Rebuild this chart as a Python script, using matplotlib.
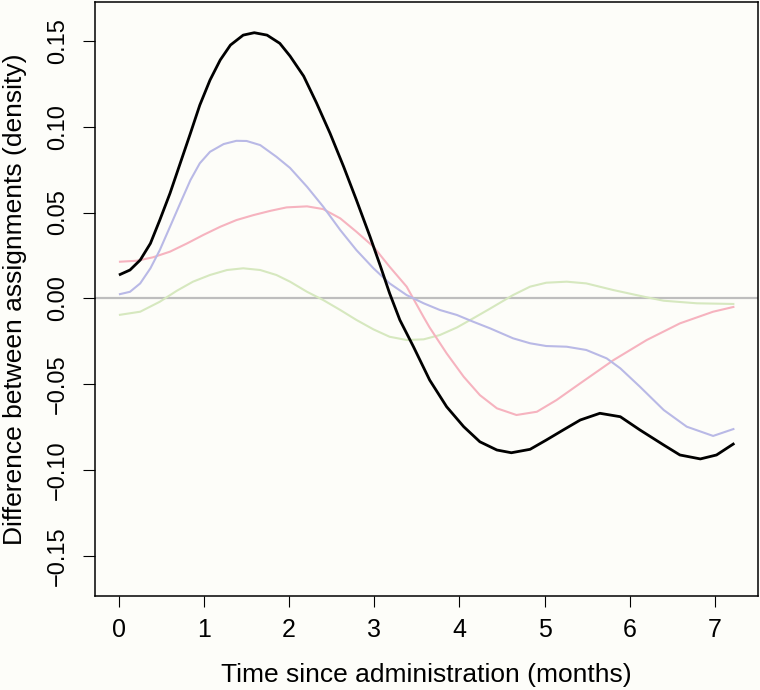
import numpy as np
import matplotlib
matplotlib.use('Agg')
import matplotlib.pyplot as plt

plt.rcParams['font.family'] = ['Liberation Sans', 'DejaVu Sans']

# values (months, density difference)
black_x = [0.0, 0.13, 0.25, 0.37, 0.48, 0.60, 0.72, 0.84, 0.95, 1.07, 1.19, 1.31, 1.46,
           1.59, 1.74, 1.89, 2.01, 2.17, 2.32, 2.48, 2.64, 2.79, 2.95, 3.07, 3.18, 3.30,
           3.46, 3.65, 3.85, 4.05, 4.24, 4.44, 4.61, 4.83, 5.02, 5.22, 5.42, 5.65, 5.89,
           6.12, 6.40, 6.59, 6.83, 7.02, 7.23]
black_y = [0.0136, 0.0165, 0.0223, 0.0320, 0.0456, 0.0612, 0.0787, 0.0962, 0.1126, 0.1272,
           0.1389, 0.1476, 0.1534, 0.1548, 0.1534, 0.1486, 0.1412, 0.1295, 0.1140, 0.0962,
           0.0767, 0.0573, 0.0359, 0.0190, 0.0029, -0.0126, -0.0282, -0.0476, -0.0632,
           -0.0748, -0.0836, -0.0884, -0.0900, -0.0880, -0.0826, -0.0767, -0.0709, -0.0670,
           -0.0690, -0.0767, -0.0855, -0.0913, -0.0936, -0.0913, -0.0845]

blue_x = [0.0, 0.13, 0.25, 0.37, 0.48, 0.60, 0.72, 0.84, 0.95, 1.07, 1.23, 1.38, 1.50,
          1.66, 1.85, 2.01, 2.21, 2.40, 2.60, 2.79, 2.99, 3.18, 3.38, 3.58, 3.77, 3.97,
          4.16, 4.36, 4.63, 4.83, 5.02, 5.26, 5.49, 5.73, 5.89, 6.12, 6.40, 6.67, 6.98, 7.23]
blue_y = [0.0023, 0.0038, 0.0087, 0.0175, 0.0281, 0.0417, 0.0554, 0.0689, 0.0787, 0.0854,
          0.0899, 0.0918, 0.0917, 0.0893, 0.0825, 0.0760, 0.0650, 0.0534, 0.0398, 0.0281,
          0.0175, 0.0087, 0.0019, -0.0029, -0.0068, -0.0097, -0.0136, -0.0175, -0.0233,
          -0.0262, -0.0278, -0.0282, -0.0301, -0.0350, -0.0408, -0.0515, -0.0651, -0.0748,
          -0.0802, -0.0760]

red_x = [0.0, 0.21, 0.40, 0.60, 0.80, 0.99, 1.19, 1.38, 1.58, 1.78, 1.97, 2.21, 2.40,
         2.60, 2.79, 2.99, 3.18, 3.38, 3.58, 3.65, 3.85, 4.05, 4.24, 4.44, 4.67, 4.91,
         5.14, 5.42, 5.81, 6.20, 6.59, 6.98, 7.23]
red_y = [0.0213, 0.0219, 0.0239, 0.0272, 0.0320, 0.0369, 0.0417, 0.0456, 0.0485, 0.0510,
         0.0530, 0.0536, 0.0520, 0.0466, 0.0388, 0.0301, 0.0184, 0.0068, -0.0110, -0.0170,
         -0.0321, -0.0457, -0.0564, -0.0641, -0.0680, -0.0661, -0.0593, -0.0495, -0.0360,
         -0.0243, -0.0146, -0.0078, -0.0049]

green_x = [0.0, 0.25, 0.48, 0.68, 0.87, 1.07, 1.27, 1.46, 1.66, 1.85, 2.01, 2.21, 2.40,
           2.60, 2.79, 2.99, 3.18, 3.38, 3.58, 3.77, 3.97, 4.16, 4.36, 4.63, 4.83, 5.02,
           5.26, 5.49, 5.81, 6.20, 6.40, 6.79, 7.23]
green_y = [-0.0097, -0.0078, -0.0020, 0.0044, 0.0097, 0.0136, 0.0165, 0.0175, 0.0165,
           0.0136, 0.0097, 0.0038, -0.0010, -0.0068, -0.0126, -0.0181, -0.0224, -0.0243,
           -0.0239, -0.0214, -0.0170, -0.0117, -0.0060, 0.0019, 0.0068, 0.0091, 0.0097,
           0.0087, 0.0048, 0.0006, -0.0014, -0.0029, -0.0033]

xticks = [0, 1, 2, 3, 4, 5, 6, 7]
yticks = [-0.15, -0.10, -0.05, 0.00, 0.05, 0.10, 0.15]
ytick_labels = ['\u22120.15', '\u22120.10', '\u22120.05', '0.00', '0.05', '0.10', '0.15']

bg = '#fdfdf9'
fig = plt.figure(figsize=(7.6, 6.9), dpi=100, facecolor=bg)
ax = fig.add_axes([0.125, 0.1362, 0.873, 0.8609], facecolor=bg)

ax.axhline(0, color='#bebebe', lw=1.6, zorder=1)
line_kw = dict(solid_joinstyle='round', solid_capstyle='butt')
ax.plot(green_x, green_y, color='#d6e8bf', lw=1.5, zorder=2, **line_kw)
ax.plot(red_x, red_y, color='#f6b3bf', lw=1.5, zorder=2, **line_kw)
ax.plot(blue_x, blue_y, color='#b9b9e6', lw=1.5, zorder=2, **line_kw)
ax.plot(black_x, black_y, color='black', lw=2.0, zorder=3, **line_kw)

ax.set_xlim(-0.281, 7.513)
ax.set_ylim(-0.1735, 0.1727)

ax.set_xticks(xticks)
ax.set_xticklabels([str(t) for t in xticks])
ax.set_yticks(yticks)
ax.set_yticklabels(ytick_labels, rotation=90, va='center')

ax.tick_params(axis='x', direction='out', length=8, width=0.8, pad=8, labelsize=18)
ax.tick_params(axis='y', direction='out', length=8.6, width=0.8, pad=10, labelsize=17)
for s in ax.spines.values():
    s.set_linewidth(1.1)

ax.set_xlabel('Time since administration (months)', fontsize=19)
ax.set_ylabel('Difference between assignments (density)', fontsize=19)
ax.xaxis.set_label_coords(0.5, -0.113)
ax.yaxis.set_label_coords(-0.1025, 0.5)

fig.savefig('out.png', dpi=100, facecolor=bg)
